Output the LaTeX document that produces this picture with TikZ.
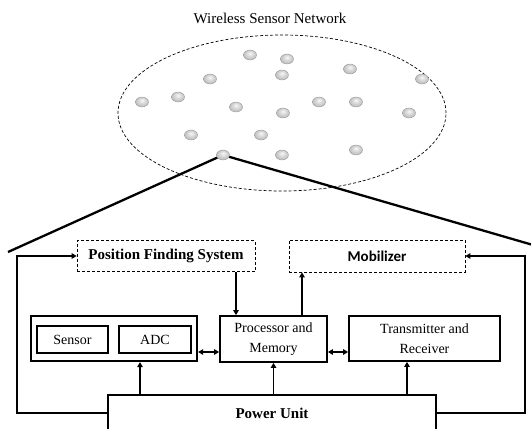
\documentclass[tikz,border=0pt]{standalone}
\usepackage{fontspec}
\setmainfont{Liberation Serif}
\newfontfamily\calfont{Carlito}
\usetikzlibrary{arrows.meta,shapes.geometric,calc}

% light sphere look for the sensor nodes
\pgfdeclareradialshading{sphere}{\pgfpoint{0bp}{9bp}}{%
  color(0bp)=(gray!5); color(10bp)=(gray!25); color(22bp)=(gray!45);
  color(30bp)=(gray!55); color(50bp)=(gray!60)}

\tikzset{
  sensornode/.style={ellipse, draw=gray!75, line width=0.45pt, shading=sphere,
    minimum width=13pt, minimum height=10pt, inner sep=0pt},
  block/.style={draw, line width=1.8pt, inner sep=0pt, align=center,
    font=\fontsize{14}{20}\selectfont},
  thickblock/.style={block, line width=2.3pt},
  dashblock/.style={draw, dash pattern=on 3pt off 2pt, line width=0.7pt, inner sep=0pt, align=center},
  arr/.style={line width=1.9pt, -{Triangle[length=5pt,width=5.5pt]}},
  darr/.style={line width=1.9pt, {Triangle[length=5pt,width=5.5pt]}-{Triangle[length=5pt,width=5.5pt]}},
  link/.style={line width=2.3pt}
}

\begin{document}
\begin{tikzpicture}[x=1pt,y=-1pt]
\useasboundingbox (0,0) rectangle (531,429);

% network title and field
\node[font=\fontsize{15}{18}\selectfont] (title) at (270,18) {Wireless Sensor Network};
\node[ellipse, draw, dash pattern=on 3pt off 2pt, line width=0.7pt, minimum width=328pt,
  minimum height=156pt, inner sep=0pt] (wsn) at (282,113) {};

% zoom-in lines from the selected node
\coordinate (leftend) at (8,252);
\coordinate (rightend) at (533,245);
\coordinate (pick) at (223,155);
\draw[link] (pick) -- (leftend);
\draw[link] (pick) -- (rightend);

% sensor nodes
\foreach \i/\x/\y in {1/250/55, 2/287/59, 3/210/79, 4/282/75, 5/350/69, 6/422/79,
  7/142/102, 8/178/97, 9/236/107, 10/283/113, 11/319/102, 12/356/102, 13/409/113,
  14/191/135, 15/261/135, 16/223/155, 17/282/155, 18/356/150}
  \node[sensornode] (n\i) at (\x,\y) {};

% blocks of the node architecture
\node[dashblock, minimum width=178pt, minimum height=31pt,
  font=\bfseries\fontsize{15}{18}\selectfont] (pfs) at (166,256) {Position Finding System};
\node[dashblock, minimum width=176pt, minimum height=32pt,
  font=\calfont\bfseries\fontsize{15}{18}\selectfont] (mob) at (377,256) {Mobilizer};

\node[thickblock, minimum width=166pt, minimum height=45pt] (sensing) at (114,338.5) {};
\node[thickblock, minimum width=71pt, minimum height=27pt] (sensor) at (72.5,339.5) {Sensor};
\node[thickblock, minimum width=72pt, minimum height=27pt] (adc) at (155,339.5) {ADC};
\node[block, minimum width=107pt, minimum height=46pt] (proc) at (273.5,339) {Processor and\\Memory};
\node[block, minimum width=151pt, minimum height=45pt] (trx) at (424.5,338.5) {Transmitter and\\Receiver};
\node[block, minimum width=328pt, minimum height=36pt,
  font=\bfseries\fontsize{15}{18}\selectfont] (power) at (272,413) {Power Unit};

% connector guides
\coordinate (xadc) at (140,0);
\coordinate (xtrx) at (407,0);
\coordinate (xpfs) at (236,0);
\coordinate (xmob) at (302,0);
\coordinate (ybus) at (0,352);

% data paths
\draw[arr] (pfs.south -| xpfs) -- (proc.north -| xpfs);
\draw[arr] (proc.north -| xmob) -- (mob.south -| xmob);
\draw[darr] (sensing.east |- ybus) -- (proc.west |- ybus);
\draw[darr] (proc.east |- ybus) -- (trx.west |- ybus);

% power supply paths
\draw[arr] (power.north -| xadc) -- (sensing.south -| xadc);
\draw[arr] (power.north -| proc.south) -- (proc.south);
\draw[arr] (power.north -| xtrx) -- (trx.south -| xtrx);
\draw[arr] (power.west) -| ([xshift=-60pt]pfs.west) -- (pfs.west);
\draw[arr] (power.east) -| ([xshift=60pt]mob.east) -- (mob.east);
\end{tikzpicture}
\end{document}
